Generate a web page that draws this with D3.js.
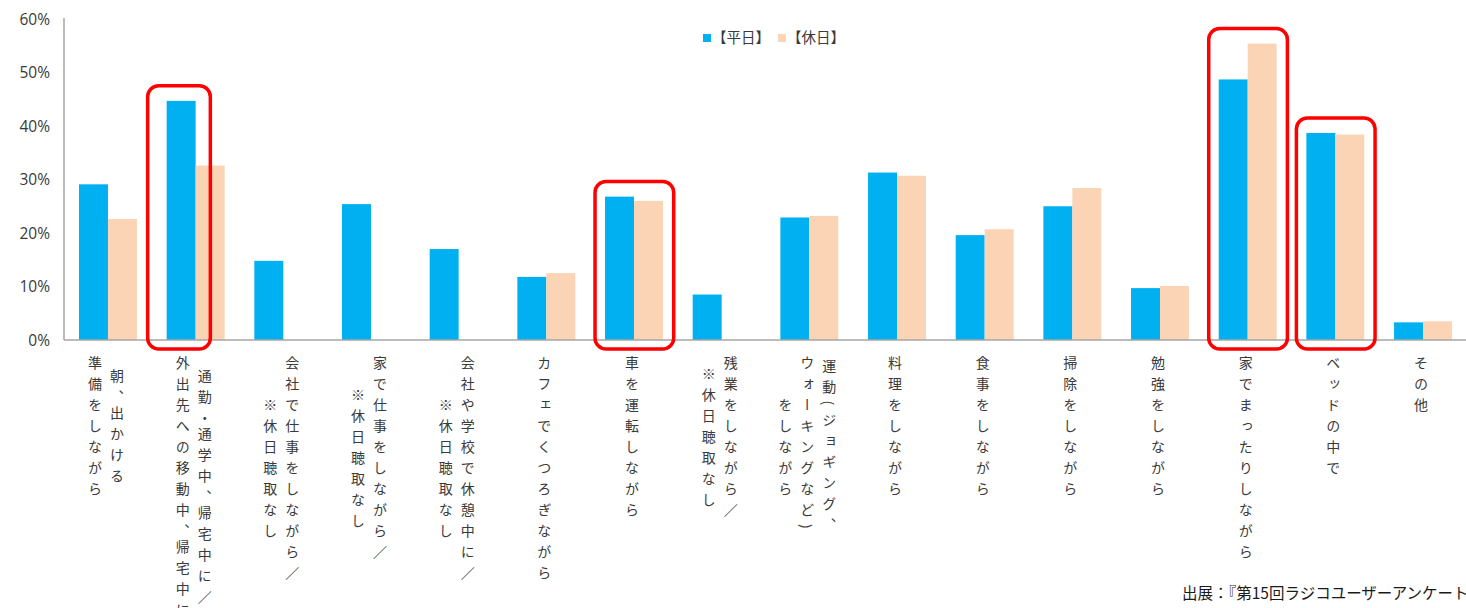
<!DOCTYPE html>
<html lang="ja">
<head>
<meta charset="utf-8">
<script src="https://cdn.jsdelivr.net/npm/d3@7"></script>
<style>
  html, body { margin: 0; padding: 0; background: #fff; }
  svg { display: block; }
  text { font-family: "Noto Sans CJK JP", "Noto Sans", sans-serif; }
</style>
</head>
<body>
<svg id="chart" width="1466" height="608"></svg>
<script>
// Radio listening situations, weekday vs holiday (% of respondents).
const categories = [
  "朝、出かける\n準備をしながら",
  "通勤・通学中、帰宅中に／\n外出先への移動中、帰宅中に",
  "会社で仕事をしながら／\n※休日聴取なし",
  "家で仕事をしながら／\n※休日聴取なし",
  "会社や学校で休憩中に／\n※休日聴取なし",
  "カフェでくつろぎながら",
  "車を運転しながら",
  "残業をしながら／\n※休日聴取なし",
  "運動(ジョギング、\nウォーキングなど)\nをしながら",
  "料理をしながら",
  "食事をしながら",
  "掃除をしながら",
  "勉強をしながら",
  "家でまったりしながら",
  "ベッドの中で",
  "その他",
];
const seriesNames = ["【平日】", "【休日】"];
const weekday = [29.1, 44.7, 14.8, 25.4, 17.0, 11.8, 26.8, 8.5, 22.9, 31.3, 19.6, 25.0, 9.7, 48.7, 38.7, 3.3];
const holiday = [22.6, 32.6, null, null, null, 12.5, 26.0, null, 23.2, 30.7, 20.7, 28.4, 10.1, 55.4, 38.4, 3.5];
const yTicks = [0, 10, 20, 30, 40, 50, 60];
// categories circled in red on the original
const highlighted = [1, 6, 13, 14];
const sourceNote = "出展：『第15回ラジコユーザーアンケート』";

const COLORS = ["#00B0F0", "#FAD4B4"];
const AXIS_COLOR = "#A6A6A6";
const TEXT_COLOR = "#3a3a3a";

const svg = d3.select("#chart");
const W = 1466;
const plot = { left: 64, right: 1467, top: 19, bottom: 340 };

const x0 = d3.scaleBand()
  .domain(d3.range(categories.length))
  .range([plot.left, plot.right])
  .paddingInner(0.339)
  .paddingOuter(0.171);
const x1 = d3.scaleBand()
  .domain([0, 1])
  .range([0, x0.bandwidth()]);
const y = d3.scaleLinear().domain([0, 60]).range([plot.bottom, plot.top]);
const step = x0.step();

// --- y axis labels (no ticks, just text) ---
svg.append("g")
  .selectAll("text")
  .data(yTicks)
  .join("text")
  .attr("x", 50)
  .attr("y", d => y(d))
  .attr("dy", "0.36em")
  .attr("text-anchor", "end")
  .attr("fill", TEXT_COLOR)
  .style("font-family", "'Open Sans', 'Noto Sans', sans-serif")
  .style("font-size", "15.5px")
  .text(d => d + "%");

// --- bars ---
const rows = categories.map((c, i) => [weekday[i], holiday[i]]);
svg.append("g")
  .selectAll("g")
  .data(rows)
  .join("g")
  .attr("transform", (d, i) => `translate(${x0(i)},0)`)
  .selectAll("rect")
  .data(d => d.map((v, s) => ({ v, s })).filter(e => e.v != null))
  .join("rect")
  .attr("x", e => x1(e.s))
  .attr("width", x1.bandwidth())
  .attr("y", e => y(e.v))
  .attr("height", e => y(0) - y(e.v))
  .attr("fill", e => COLORS[e.s]);

// --- axes lines ---
svg.append("line")
  .attr("x1", plot.left).attr("x2", plot.left)
  .attr("y1", plot.top - 1).attr("y2", plot.bottom)
  .attr("stroke", AXIS_COLOR).attr("stroke-width", 1.5);
svg.append("line")
  .attr("x1", plot.left).attr("x2", W)
  .attr("y1", plot.bottom).attr("y2", plot.bottom)
  .attr("stroke", AXIS_COLOR).attr("stroke-width", 1.5);

// --- vertical category labels ---
// Punctuation sits tighter in the original, so it gets a smaller advance.
const FONT = 14;
const PITCH = 21;       // vertical advance per character
const PUNCT_PITCH = 16;
const PUNCT = "、・";
const COL_GAP = 22;     // distance between columns
const LABEL_TOP = 356;
const colLength = s => d3.sum([...s], ch => PUNCT.includes(ch) ? PUNCT_PITCH : PITCH);

const labels = svg.append("g");
categories.forEach((label, i) => {
  const lines = label.split("\n");
  const maxLen = d3.max(lines, colLength);
  const xc = x0(i) + x0.bandwidth() / 2 - 2;
  lines.forEach((ln, j) => {
    const cx = xc + ((lines.length - 1) / 2 - j) * COL_GAP;
    const y0 = LABEL_TOP + (maxLen - colLength(ln)) / 2;
    const t = labels.append("text")
      .attr("x", cx)
      .attr("y", y0)
      .attr("fill", TEXT_COLOR)
      .style("writing-mode", "vertical-rl")
      .style("font-size", FONT + "px");
    t.selectAll("tspan")
      .data([...ln])
      .join("tspan")
      .style("letter-spacing", ch => ((PUNCT.includes(ch) ? PUNCT_PITCH : PITCH) - FONT) + "px")
      .text(ch => ch);
  });
});

// --- red highlight boxes ---
const boxTweak = { 1: { dx: -9, dw: -16 } };
svg.append("g")
  .selectAll("rect")
  .data(highlighted)
  .join("rect")
  .each(function (i) {
    const t = boxTweak[i] || { dx: 0, dw: 0 };
    const top = y(d3.max([weekday[i], holiday[i] || 0])) - 15;
    d3.select(this)
      .attr("x", x0(i) - x0.paddingOuter() * step + 5 + t.dx)
      .attr("width", step - 9 + t.dw)
      .attr("y", top)
      .attr("height", plot.bottom + 9 - top);
  })
  .attr("rx", 11)
  .attr("fill", "none")
  .attr("stroke", "#FF0000")
  .attr("stroke-width", 3.5);

// --- legend ---
const legend = svg.append("g").attr("transform", "translate(703,38)");
let lx = 0;
seriesNames.forEach((name, s) => {
  legend.append("rect")
    .attr("x", lx).attr("y", -4).attr("width", 8).attr("height", 8)
    .attr("fill", COLORS[s]);
  legend.append("text")
    .attr("x", lx + 9).attr("y", 0).attr("dy", "0.36em")
    .attr("fill", TEXT_COLOR)
    .style("font-size", "14.5px")
    .text(name);
  lx += 75;
});

// --- source note (runs off the right edge like the original) ---
svg.append("text")
  .attr("x", 1182)
  .attr("y", 599)
  .attr("fill", "#1a1a1a")
  .style("font-size", "15.5px")
  .text(sourceNote);
</script>
</body>
</html>
